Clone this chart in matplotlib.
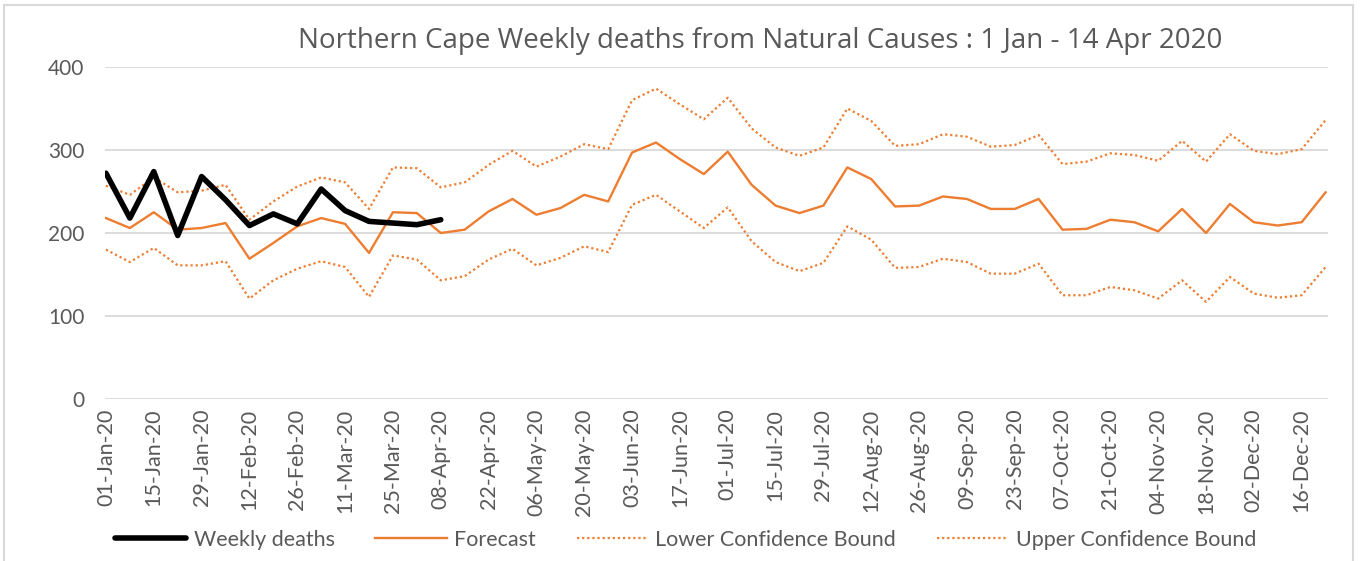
import matplotlib
matplotlib.use("Agg")
import matplotlib.pyplot as plt
from matplotlib.patches import Rectangle
import numpy as np
import pandas as pd

dates = pd.date_range("2020-01-01", periods=52, freq="7D")
tick_labels = [d.strftime("%d-%b-%y") for d in dates[::2]]

weekly_deaths = [272, 218, 274, 197, 268, 240, 209, 223, 211, 253, 227, 214, 212, 210, 216]

forecast = [218, 206, 225, 204, 206, 212, 169, 188, 208, 218, 211, 176, 225, 224, 200,
            204, 226, 241, 222, 230, 246, 238, 297, 309, 289, 271, 298, 258, 233, 224,
            233, 279, 265, 232, 233, 244, 241, 229, 229, 241, 204, 205, 216, 213, 202,
            229, 200, 235, 213, 209, 213, 249]

lower = [180, 165, 182, 161, 161, 166, 121, 143, 157, 166, 159, 123, 173, 168, 143,
         148, 168, 181, 161, 170, 184, 177, 234, 246, 226, 206, 231, 190, 165, 154,
         164, 208, 192, 158, 159, 169, 165, 151, 151, 163, 125, 125, 135, 131, 121,
         143, 117, 147, 127, 122, 125, 159]

upper = [257, 246, 267, 249, 251, 258, 216, 238, 256, 267, 261, 229, 279, 278, 255,
         261, 282, 299, 280, 292, 307, 301, 360, 374, 355, 337, 363, 326, 303, 293,
         303, 350, 335, 305, 307, 319, 316, 304, 306, 318, 283, 286, 296, 294, 287,
         311, 286, 319, 299, 295, 301, 336]

orange = "#ED7D31"
gray_text = "#595959"
font = "Lato"

fig = plt.figure(figsize=(13.62, 5.61), dpi=100)
fig.patch.set_facecolor("white")
ax = fig.add_axes([105 / 1362, 1 - 399 / 561, (1328 - 105) / 1362, (399 - 67) / 561])

x_all = np.arange(len(forecast))
x_obs = np.arange(len(weekly_deaths))

ax.plot(x_all, lower, color=orange, lw=1.6, linestyle=(0, (1, 1.3)), label="Lower Confidence Bound", zorder=3)
ax.plot(x_all, upper, color=orange, lw=1.6, linestyle=(0, (1, 1.3)), label="Upper Confidence Bound", zorder=3)
ax.plot(x_all, forecast, color=orange, lw=1.7, label="Forecast", zorder=4)
ax.plot(x_obs, weekly_deaths, color="black", lw=4.0, label="Weekly deaths", zorder=5,
        solid_capstyle="round", solid_joinstyle="round")

ax.set_xlim(-0.04, 51.1)
ax.set_ylim(0, 400)
ax.set_yticks([0, 100, 200, 300, 400])
ax.yaxis.grid(True, color="#D9D9D9", lw=1.3)
ax.set_axisbelow(True)
for s in ax.spines.values():
    s.set_visible(False)
ax.tick_params(axis="both", length=0, colors=gray_text)
ax.set_xticks(x_all[::2])
ax.set_xticklabels(tick_labels, rotation=90, fontsize=15.5, family=font, color=gray_text)
for lab in ax.get_yticklabels():
    lab.set_fontfamily(font)
    lab.set_fontsize(15)
ax.tick_params(axis="y", pad=15)
ax.tick_params(axis="x", pad=7)

fig.text(760 / 1362, 1 - 41 / 561, "Northern Cape Weekly deaths from Natural Causes : 1 Jan - 14 Apr 2020",
         ha="center", va="center", fontsize=20, family="Open Sans", color=gray_text)

handles, labels = ax.get_legend_handles_labels()
order = [3, 2, 0, 1]
leg = fig.legend([handles[i] for i in order], [labels[i] for i in order],
                 loc="center left", bbox_to_anchor=(115 / 1362, 1 - 540 / 561), ncol=4,
                 frameon=False, handlelength=3.3, handletextpad=0.35, columnspacing=1.9,
                 prop={"family": font, "size": 15.5}, borderaxespad=0, borderpad=0)
for t in leg.get_texts():
    t.set_color(gray_text)

fig.patches.append(Rectangle((4 / 1362, -0.1), (1353 - 4) / 1362, 1.1 - 5 / 561,
                             transform=fig.transFigure, fill=False, edgecolor="#D9D9D9", lw=1.5))

fig.savefig("out.png", dpi=100)
